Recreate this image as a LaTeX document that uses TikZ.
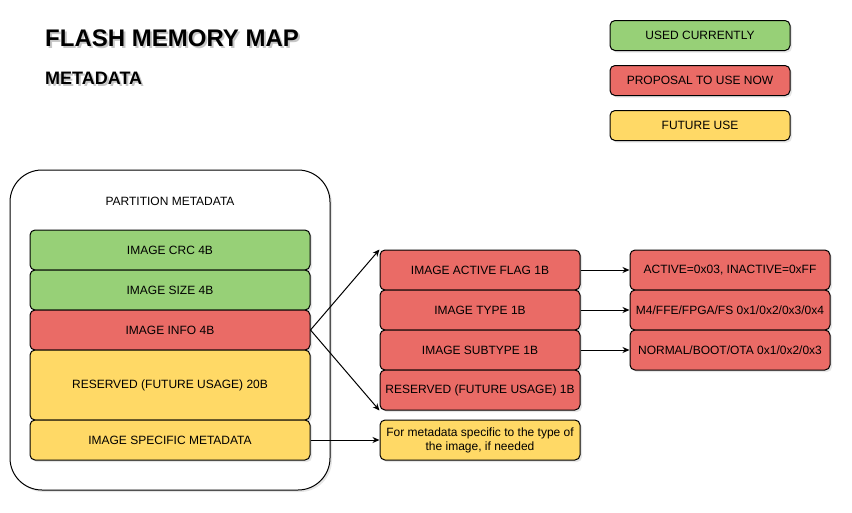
\documentclass[tikz,border=0pt]{standalone}
\usepackage{fontspec}
\setmainfont{Liberation Sans}
\usetikzlibrary{shadows,arrows.meta}

\definecolor{usedgreen}{HTML}{97D077}
\definecolor{proposalred}{HTML}{EA6B66}
\definecolor{futureyellow}{HTML}{FFD966}

% text with a soft shadow behind it
\newcommand{\shadowtext}[1]{\rlap{\raisebox{-2pt}{\kern2pt\textcolor{black!22}{#1}}}#1}

\tikzset{
    field/.style = {draw, line width=1pt, rounded corners=5pt, inner sep=0pt, align=center,
                    font=\fontsize{12}{14}\selectfont,
                    drop shadow={shadow xshift=2pt, shadow yshift=-2pt, opacity=0.2}},
    used/.style = {field, fill=usedgreen},
    proposal/.style = {field, fill=proposalred},
    future/.style = {field, fill=futureyellow},
    link/.style = {line width=1pt, -{Stealth[length=7pt,width=6pt]}}
}

\begin{document}
\begin{tikzpicture}[x=1pt, y=-1pt]
        %page size of the reference
        \useasboundingbox (0,0) rectangle (852,512);
        \def\lw{280}% width of the fields in the partition
        \def\rw{200}% width of the fields on the right
        
        % titles
        \node[anchor=west, inner sep=0pt, font=\fontsize{24}{26}\selectfont\bfseries] (title) at (45,39) {\shadowtext{FLASH MEMORY MAP}};
        \node[anchor=west, inner sep=0pt, font=\fontsize{18}{20}\selectfont\bfseries] (subtitle) at (45,79.3) {\shadowtext{METADATA}};
        
        % legend
        \node[used, minimum width=180, minimum height=30] (legused) at (700,35.5) {USED CURRENTLY};
        \node[proposal, minimum width=180, minimum height=30] (legproposal) at (700,80.5) {PROPOSAL TO USE NOW};
        \node[future, minimum width=180, minimum height=30] (legfuture) at (700,125.5) {FUTURE USE};
        
        % partition container
        \node[field, fill=white, rounded corners=32pt, minimum width=320, minimum height=320] (partition) at (170,330) {};
        \node[font=\fontsize{12}{14}\selectfont] (partitionlabel) at (170,201) {PARTITION METADATA};
        
        % fields of the partition
        \node[used, minimum width=\lw, minimum height=40] (crc) at (170,250) {IMAGE CRC 4B};
        \node[used, minimum width=\lw, minimum height=40] (size) at (170,290) {IMAGE SIZE 4B};
        \node[proposal, minimum width=\lw, minimum height=40] (info) at (170,330) {IMAGE INFO 4B};
        \node[future, minimum width=\lw, minimum height=70] (reserved) at (170,385) {RESERVED (FUTURE USAGE) 20B};
        \node[future, minimum width=\lw, minimum height=40] (specific) at (170,440) {IMAGE SPECIFIC METADATA};
        
        % bytes of image info
        \node[proposal, minimum width=\rw, minimum height=40] (activeflag) at (480,270) {IMAGE ACTIVE FLAG 1B};
        \node[proposal, minimum width=\rw, minimum height=40] (imgtype) at (480,310) {IMAGE TYPE 1B};
        \node[proposal, minimum width=\rw, minimum height=40] (subtype) at (480,350) {IMAGE SUBTYPE 1B};
        \node[proposal, minimum width=\rw, minimum height=40] (reservedone) at (480,390) {RESERVED (FUTURE USAGE) 1B};
        \node[future, minimum width=\rw, minimum height=40] (note) at (480,440) {For metadata specific to the type of\\the image, if needed};
        
        % values of the bytes
        \node[proposal, minimum width=\rw, minimum height=40] (activeval) at (730,270) {ACTIVE=0x03, INACTIVE=0xFF};
        \node[proposal, minimum width=\rw, minimum height=40] (typeval) at (730,310) {M4/FFE/FPGA/FS 0x1/0x2/0x3/0x4};
        \node[proposal, minimum width=\rw, minimum height=40] (subtypeval) at (730,350) {NORMAL/BOOT/OTA 0x1/0x2/0x3};
        
        % connectors
        \draw[link] (info.east) -- (activeflag.north west);
        \draw[link] (info.east) -- (reservedone.south west);
        \draw[link] (specific.east) -- (note.west);
        \draw[link] (activeflag.east) -- (activeval.west);
        \draw[link] (imgtype.east) -- (typeval.west);
        \draw[link] (subtype.east) -- (subtypeval.west);
    \end{tikzpicture}
\end{document}
